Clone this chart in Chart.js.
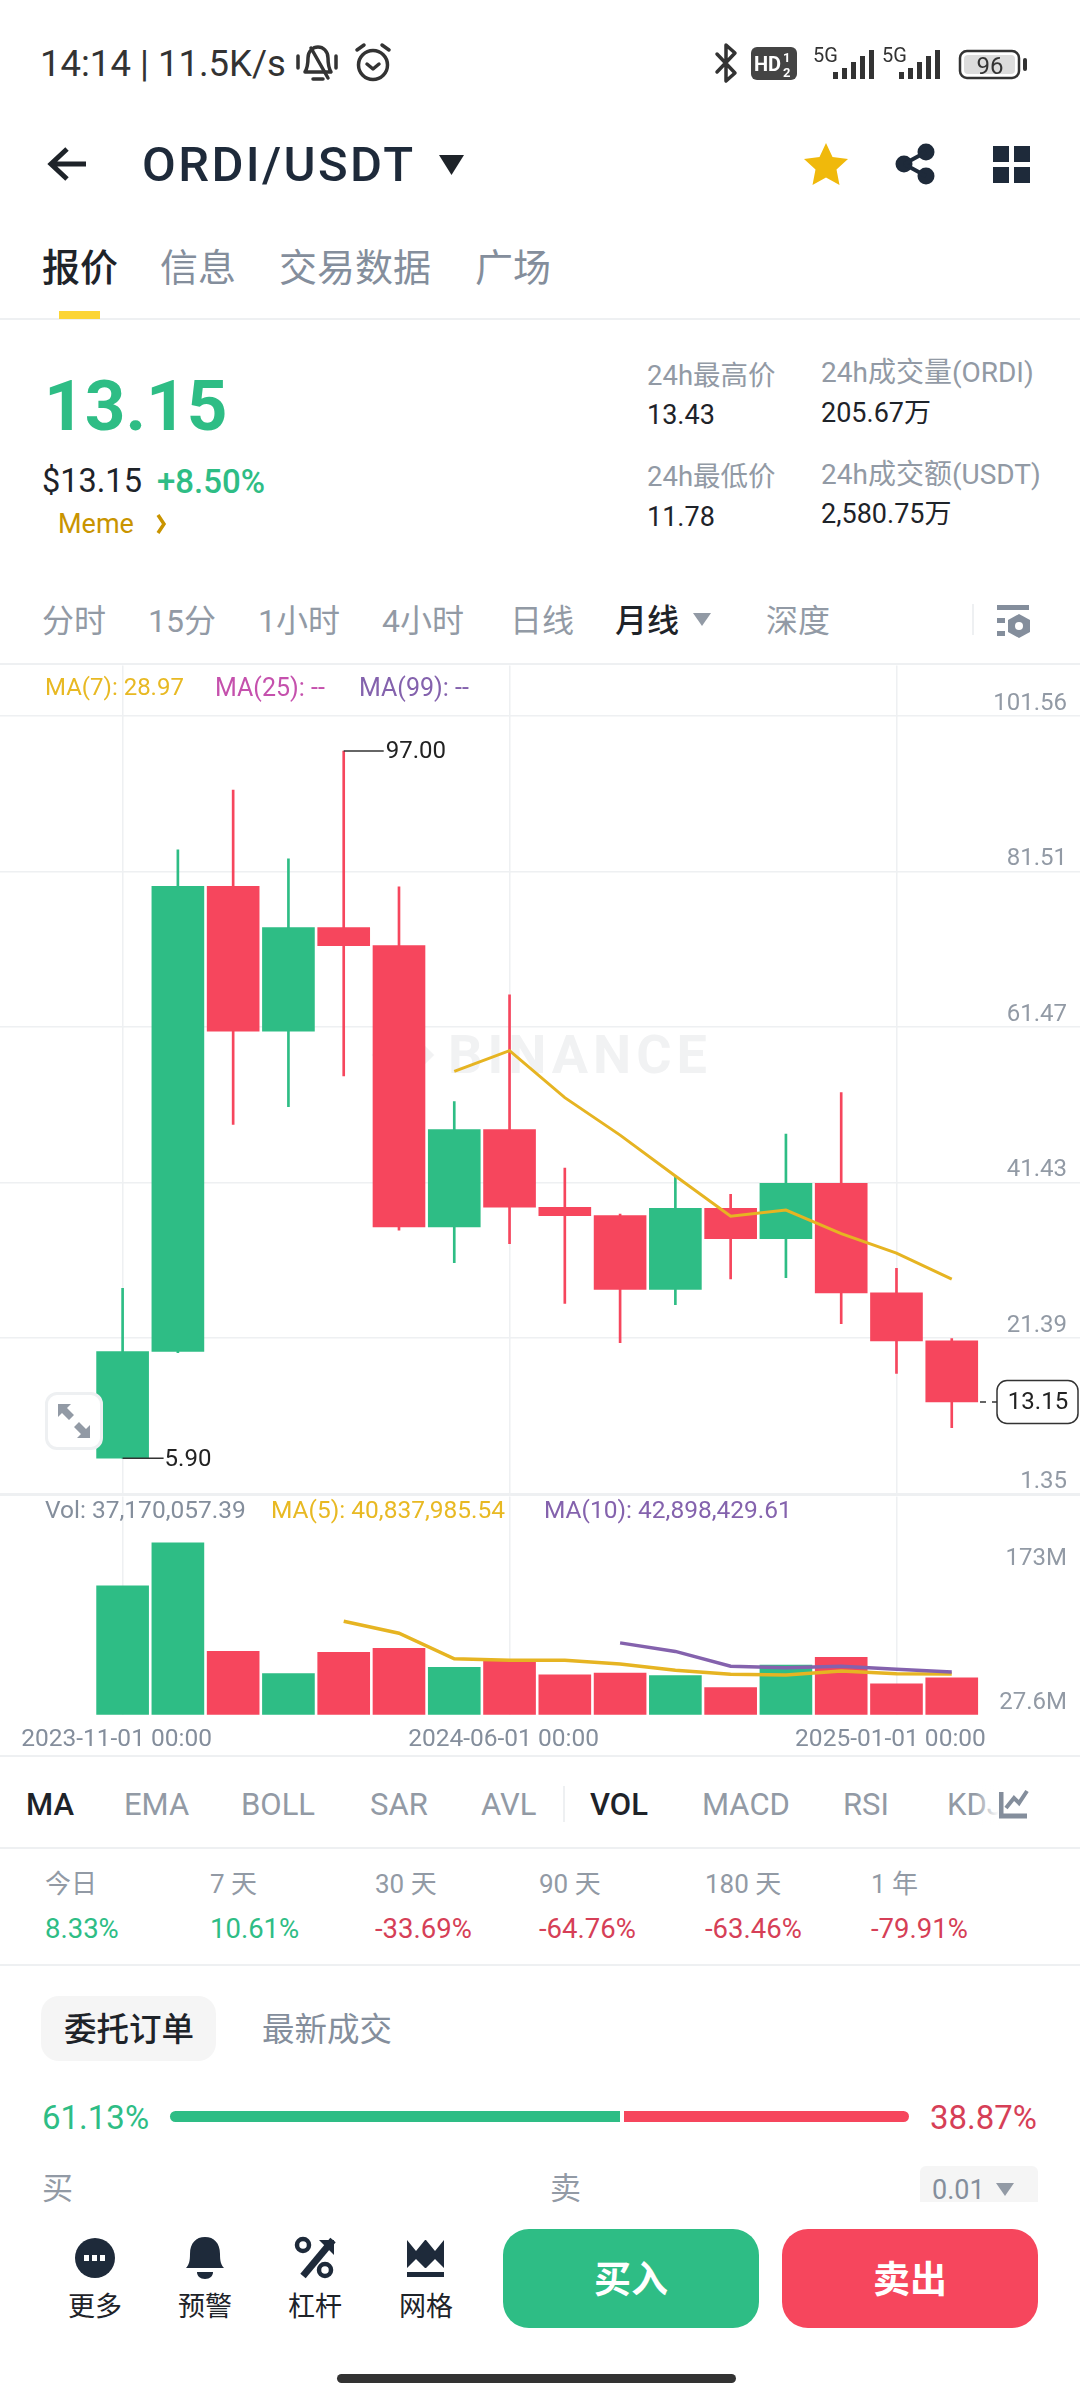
<!DOCTYPE html>
<html lang="zh">
<head>
<meta charset="utf-8">
<title>ORDI/USDT</title>
<script src="https://cdn.jsdelivr.net/npm/chart.js@4"></script>
<style>
  html, body { margin: 0; padding: 0; background: #fff; }
  #page { position: relative; width: 1080px; height: 2400px; overflow: hidden; background: #fff;
          font-family: Roboto, "Noto Sans CJK SC", sans-serif; }
  #page span { position: absolute; white-space: nowrap; line-height: 1; }
  #page canvas { position: absolute; left: 0; z-index: 2; }
  .line { position: absolute; left: 0; width: 1080px; height: 2px; background: #eef0f2; }
  .box { position: absolute; }
  #icons { position: absolute; left: 0; top: 0; z-index: 3; }
</style>
</head>
<body>
<div id="page">
  <canvas id="priceChart" width="1080" height="831" style="top:664px"></canvas>
  <canvas id="volChart" width="1080" height="261" style="top:1495px"></canvas>
  <div class="line" style="top:318px"></div>
  <div class="line" style="top:663px"></div>
  <div class="line" style="top:1494px"></div>
  <div class="line" style="top:1755px"></div>
  <div class="line" style="top:1847px"></div>
  <div class="line" style="top:1964px"></div>
  <div class="box" style="left:59px;top:311px;width:41px;height:8px;background:#fcd535"></div>
  <div class="box" style="left:41px;top:1996px;width:175px;height:65px;background:#f5f5f5;border-radius:18px"></div>
  <div class="box" style="left:170px;top:2111px;width:450px;height:11px;background:#2ebd85;border-radius:6px 0 0 6px"></div>
  <div class="box" style="left:624px;top:2111px;width:285px;height:11px;background:#f6465d;border-radius:0 6px 6px 0"></div>
  <div class="box" style="left:920px;top:2166px;width:118px;height:36px;background:#f5f5f5;border-radius:6px 6px 0 0"></div>
  <div class="box" style="left:503px;top:2229px;width:256px;height:99px;background:#2ebd85;border-radius:26px"></div>
  <div class="box" style="left:782px;top:2229px;width:256px;height:99px;background:#f6465d;border-radius:26px"></div>
  <div class="box" style="left:337px;top:2374px;width:399px;height:9px;background:#333;border-radius:5px"></div>
  <div class="box" style="left:45px;top:1392px;width:58px;height:58px;background:#fff;border:3px solid #eef0f2;border-radius:12px;box-sizing:border-box;z-index:3"></div>
  <div class="box" style="left:972px;top:604px;width:2px;height:31px;background:#eef0f2"></div>
  <div class="box" style="left:563px;top:1786px;width:2px;height:36px;background:#eef0f2"></div>
  <div class="box" style="left:975px;top:1785px;width:24px;height:40px;background:linear-gradient(90deg,rgba(255,255,255,0),#fff);z-index:4"></div>
  <div class="box" style="left:381px;top:1033px;width:44px;height:44px;background:#f1f2f3;transform:rotate(45deg)"></div>

  <svg id="icons" width="1080" height="2400" viewBox="0 0 1080 2400" fill="none">
    <!-- status bar -->
    <g stroke="#333" stroke-width="3.5" stroke-linecap="round" stroke-linejoin="round">
      <path d="M305 72c3-5 3-9 3-14 0-7 5-11 10-11s10 4 10 11c0 5 0 9 3 14z"/>
      <path d="M311 48l17 30M298 56v12M336 56v12M313 79h10"/>
      <circle cx="373" cy="65" r="14.5"/>
      <path d="M357 50l7-5M389 50l-7-5M367 64l6 5 6-5"/>
      <path d="M717 54l18 19-9 8V45l9 8-18 19"/>
    </g>
    <rect x="751" y="47" width="46" height="33" rx="6" fill="#444"/>
    <text x="754" y="71" font-size="20" font-weight="700" fill="#fff" font-family="Roboto">HD</text>
    <text x="783" y="62" font-size="13" font-weight="700" fill="#fff" font-family="Roboto">1</text>
    <text x="783" y="77" font-size="13" font-weight="700" fill="#fff" font-family="Roboto">2</text>
    <text x="813" y="62" font-size="20" fill="#333" font-family="Roboto">5G</text>
    <text x="882" y="62" font-size="20" fill="#333" font-family="Roboto">5G</text>
    <g fill="#333">
      <rect x="833" y="72" width="5" height="7"/><rect x="842" y="68" width="5" height="11"/>
      <rect x="851" y="62" width="5" height="17"/><rect x="860" y="56" width="5" height="23"/><rect x="869" y="50" width="5" height="29"/>
      <rect x="899" y="72" width="5" height="7"/><rect x="908" y="68" width="5" height="11"/>
      <rect x="917" y="62" width="5" height="17"/><rect x="926" y="56" width="5" height="23"/><rect x="935" y="50" width="5" height="29"/>
      <rect x="1023" y="58" width="4" height="13" rx="2"/>
    </g>
    <rect x="960" y="51" width="59" height="27" rx="7" stroke="#333" stroke-width="2.5"/>
    <rect x="964" y="55" width="51" height="19" rx="4" fill="#dcdcdc"/>
    <text x="990" y="74" font-size="24" fill="#333" text-anchor="middle" font-family="Roboto">96</text>
    <!-- header -->
    <path d="M86 164H52M67 149L51 164l16 15" stroke="#1e2329" stroke-width="5"/>
    <path d="M439 155h25l-12.500 20z" fill="#1e2329"/>
    <path d="M826 143l6.500 14 15.500 2-11.500 10.500 3 15.500-13.500-7.500-13.500 7.500 3-15.500L804 159l15.500-2z" fill="#f0b90b"/>
    <g fill="#1e2a3a">
      <circle cx="904" cy="164" r="8.500"/><circle cx="926" cy="152" r="8.500"/><circle cx="926" cy="176" r="8.500"/>
      <rect x="993" y="146" width="16" height="16"/><rect x="1014" y="146" width="16" height="16"/>
      <rect x="993" y="167" width="16" height="16"/><rect x="1014" y="167" width="16" height="16"/>
    </g>
    <path d="M904 164l22-12M904 164l22 12" stroke="#1e2a3a" stroke-width="4"/>
    <path d="M158 515l6 9-6 9" stroke="#c99400" stroke-width="3.500"/>
    <!-- interval row -->
    <path d="M693 613h18l-9 13z" fill="#929aa5"/>
    <g fill="#848e9c">
      <rect x="997" y="605" width="32" height="5"/><rect x="997" y="618" width="8" height="5"/><rect x="997" y="631" width="8" height="5"/>
      <path d="M1019 614l11 6v12l-11 6-11-6v-12z"/>
    </g>
    <circle cx="1019" cy="626" r="4" fill="#fff"/>
    <!-- expand button -->
    <path d="M58 1404h13l-4 4 7 7-5 5-7-7-4 4zM90 1438H77l4-4-7-7 5-5 7 7 4-4z" fill="#929aa5"/>
    <!-- indicator row icon -->
    <path d="M1001 1792v24h26" stroke="#848e9c" stroke-width="5"/>
    <path d="M1006 1808l8-10 5 5 8-12" stroke="#848e9c" stroke-width="4"/>
    <!-- order book dropdown -->
    <path d="M996 2183h18l-9 13z" fill="#929aa5"/>
    <!-- bottom nav -->
    <circle cx="95" cy="2258" r="20" fill="#1e2a3a"/>
    <g fill="#fff"><rect x="84" y="2255" width="5" height="6"/><rect x="92" y="2255" width="5" height="6"/><rect x="100" y="2255" width="5" height="6"/></g>
    <path d="M186 2268c3-3 4-7 4-14 0-11 6-17 15-17s15 6 15 17c0 7 1 11 4 14z" fill="#1e2a3a"/>
    <path d="M197 2272h16c0 4-3 7-8 7s-8-3-8-7z" fill="#1e2a3a"/>
    <path d="M333 2240l-30 36" stroke="#1e2a3a" stroke-width="7"/>
    <path d="M319 2240h15v15z" fill="#1e2a3a"/>
    <circle cx="303" cy="2245" r="6" stroke="#1e2a3a" stroke-width="4.500"/>
    <circle cx="325" cy="2270" r="6" stroke="#1e2a3a" stroke-width="4.500"/>
    <path d="M407 2240h37v28h-37z" fill="#1e2a3a"/>
    <path d="M407 2240l9 11 9-11zM426 2240l9 11 9-11zM407 2268l9-9 9 9zM426 2268l9-9 9 9z" fill="#fff"/>
    <rect x="407" y="2272" width="37" height="5" fill="#1e2a3a"/>
  </svg>
</div>

<script>
const categories = ["2023-11","2023-12","2024-01","2024-02","2024-03","2024-04","2024-05","2024-06","2024-07","2024-08","2024-09","2024-10","2024-11","2024-12","2025-01","2025-02"];
const opens  = [5.90, 19.65, 79.59, 60.93, 74.26, 71.95, 35.71, 48.25, 38.24, 37.16, 27.65, 38.09, 34.20, 41.33, 27.21, 21.02];
const closes = [19.65, 79.59, 60.93, 74.26, 71.95, 35.71, 48.25, 38.24, 37.16, 27.65, 38.09, 34.20, 41.33, 27.21, 21.02, 13.15];
const highs  = [27.79, 84.27, 91.98, 83.12, 97.00, 79.52, 51.85, 65.61, 43.28, 37.37, 42.27, 39.89, 47.67, 53.00, 30.38, 21.31];
const lows   = [5.90, 19.50, 48.90, 51.20, 55.17, 35.28, 31.10, 33.55, 25.85, 20.80, 25.70, 29.01, 29.16, 23.25, 16.84, 9.85];
const ma7 = [null, null, null, null, null, null, 55.74, 58.41, 52.36, 47.53, 42.27, 37.08, 37.87, 34.85, 32.33, 28.97];
const volumes = [129.7, 173, 63.7, 41.3, 62.7, 66.7, 47.7, 54, 40, 42, 39.3, 27.3, 50, 57.7, 31, 37.17];
const volMa5  = [null, null, null, null, 94, 82, 56.3, 54.7, 54.7, 51, 44.7, 40.7, 40, 44, 41.3, 40.84];
const volMa10 = [null, null, null, null, null, null, null, null, null, 72.3, 63.7, 48.7, 47.3, 48.7, 45.7, 42.9];
const priceTicks = [1.35, 21.39, 41.43, 61.47, 81.51, 101.56];
const volTicks = [27.6, 173];
const dateTicks = [0, 7, 14];
const dateLabels = ["2023-11-01 00:00", "2024-06-01 00:00", "2025-01-01 00:00"];

const GREEN = "#2ebd85", RED = "#f6465d", GRID = "#eef0f2", GRAY = "#929aa5", DARK = "#1e2329";
const SELL = "#d63f57", GOLD = "#e8b923", PURPLE = "#8462ad", PINK = "#c551ad";
const FONT = 'Roboto, "Noto Sans CJK SC", sans-serif';

// text around the charts
function put(text, x, y, size, color, extra) {
    const el = document.createElement("span");
    el.textContent = text;
    const o = extra || {};
    const tx = o.align === "right" ? "-100%" : o.align === "center" ? "-50%" : "0";
    el.style.cssText = `left:${x}px;top:${y}px;font-size:${size}px;color:${color};font-weight:${o.weight || 400};letter-spacing:${o.spacing || 0}px;transform:translate(${tx},-50%);z-index:${o.z || 1}`;
    document.getElementById("page").appendChild(el);
}

put("14:14 | 11.5K/s", 40, 64, 36.5, "#333");
put("ORDI/USDT", 142, 164, 49, "#1e2a3a", { weight: 500, spacing: 2.4 });
put("报价", 42, 268, 38, DARK, { weight: 500 });
put("信息", 160, 268, 38, "#848e9c");
put("交易数据", 279, 268, 38, "#848e9c");
put("广场", 475, 268, 38, "#848e9c");
put("13.15", 44, 405, 71, GREEN, { weight: 700 });
put("$13.15", 42, 481, 32.5, DARK);
put("+8.50%", 157, 481, 33, GREEN, { weight: 500 });
put("Meme", 58, 524, 27, "#c99400");
put("24h最高价", 647, 376, 27.5, GRAY);
put("13.43", 647, 415, 27, DARK);
put("24h最低价", 647, 477, 27.5, GRAY);
put("11.78", 647, 517, 27, DARK);
put("24h成交量(ORDI)", 821, 373, 28, GRAY);
put("205.67万", 821, 413, 27, DARK);
put("24h成交额(USDT)", 821, 475, 28, GRAY);
put("2,580.75万", 821, 514, 27, DARK);
put("分时", 42, 621, 32, GRAY);
put("15分", 148, 621, 32, GRAY);
put("1小时", 258, 621, 32, GRAY);
put("4小时", 382, 621, 32, GRAY);
put("日线", 510, 621, 32, GRAY);
put("月线", 615, 621, 32, DARK, { weight: 500 });
put("深度", 766, 621, 32, GRAY);
put("MA(7): 28.97", 45, 687, 24, GOLD, { z: 3 });
put("MA(25): --", 215, 687, 25, PINK, { z: 3 });
put("MA(99): --", 359, 687, 25, PURPLE, { z: 3 });
put("BINANCE", 448, 1055, 54, "#f1f2f3", { weight: 700, spacing: 5 });
put("Vol: 37,170,057.39", 45, 1510, 24.5, "#848e9c", { z: 3 });
put("MA(5): 40,837,985.54", 271, 1510, 24.5, GOLD, { z: 3 });
put("MA(10): 42,898,429.61", 544, 1510, 24.5, PURPLE, { z: 3 });

const indicators = [["MA", 26, DARK], ["EMA", 124, GRAY], ["BOLL", 241, GRAY], ["SAR", 370, GRAY], ["AVL", 481, GRAY],
    ["VOL", 590, DARK], ["MACD", 702, GRAY], ["RSI", 843, GRAY], ["KDJ", 947, GRAY]];
indicators.forEach(([t, x, c]) => put(t, x, 1804, 31, c, { weight: c === DARK ? 500 : 400 }));

const periods = [["今日", "8.33%", 45], ["7 天", "10.61%", 210], ["30 天", "-33.69%", 375], ["90 天", "-64.76%", 539], ["180 天", "-63.46%", 705], ["1 年", "-79.91%", 871]];
periods.forEach(([a, b, x]) => {
    put(a, x, 1884, 26, GRAY);
    put(b, x, 1929, 27.5, b[0] === "-" ? SELL : GREEN);
});

put("委托订单", 64, 2030, 32.5, DARK, { weight: 500 });
put("最新成交", 262, 2030, 32.5, "#848e9c");
put("61.13%", 42, 2117, 33, GREEN);
put("38.87%", 1037, 2117, 33, SELL, { align: "right" });
put("买", 42, 2188, 31, GRAY);
put("卖", 550, 2188, 31, GRAY);
put("0.01", 932, 2190, 27, "#848e9c");
put("更多", 95, 2307, 27, DARK, { align: "center" });
put("预警", 205, 2307, 27, DARK, { align: "center" });
put("杠杆", 315, 2307, 27, DARK, { align: "center" });
put("网格", 426, 2307, 27, DARK, { align: "center" });
put("买入", 631, 2280, 37, "#fff", { align: "center", weight: 700 });
put("卖出", 910, 2280, 37, "#fff", { align: "center", weight: 700 });

Chart.defaults.font.family = FONT;
Chart.defaults.animation = false;
Chart.defaults.devicePixelRatio = 1;
Chart.defaults.responsive = false;

const candleColors = closes.map((c, i) => (c >= opens[i] ? GREEN : RED));
const index = categories.map((_, i) => i);

function xAxis(showLabels) {
    return {
        type: "linear",
        min: -2.218,
        max: 17.32,
        offset: false,
        border: { display: false },
        grid: { color: GRID, lineWidth: 1.5, drawTicks: false, offset: false },
        ticks: {
            display: showLabels,
            autoSkip: false,
            maxRotation: 0,
            padding: 10,
            labelOffset: -6,
            color: "#848e9c",
            font: { size: 24.5 },
            callback: (v) => dateLabels[dateTicks.indexOf(v)],
        },
        afterBuildTicks: (s) => { s.ticks = dateTicks.map((value) => ({ value })); },
        afterFit: (s) => { s.height = showLabels ? 41.3 : 0; },
    };
}

// high, low and last price marks on the price pane
const priceMarks = {
    id: "priceMarks",
    afterDatasetsDraw(chart) {
        const { ctx, scales: { x, y } } = chart;
        ctx.save();
        ctx.font = "24px " + FONT;
        ctx.textBaseline = "middle";
        ctx.strokeStyle = "#333";
        ctx.lineWidth = 1.5;
        ctx.fillStyle = "#222";

        const hi = highs.indexOf(Math.max(...highs));
        const hx = x.getPixelForValue(hi), hy = y.getPixelForValue(highs[hi]);
        ctx.beginPath(); ctx.moveTo(hx, hy); ctx.lineTo(hx + 40, hy); ctx.stroke();
        ctx.fillText(highs[hi].toFixed(2), hx + 42, hy + 1);

        const lo = lows.indexOf(Math.min(...lows));
        const lx = x.getPixelForValue(lo), ly = y.getPixelForValue(lows[lo]);
        ctx.beginPath(); ctx.moveTo(lx, ly); ctx.lineTo(lx + 41, ly); ctx.stroke();
        ctx.fillText(lows[lo].toFixed(2), lx + 42, ly + 2);

        const last = closes[closes.length - 1];
        const ty = y.getPixelForValue(last);
        ctx.setLineDash([6, 6]);
        ctx.beginPath(); ctx.moveTo(980, ty); ctx.lineTo(997, ty); ctx.stroke();
        ctx.setLineDash([]);
        ctx.fillStyle = "#fff";
        ctx.beginPath(); ctx.roundRect(997, ty - 21.5, 81, 43, 10); ctx.fill(); ctx.stroke();
        ctx.fillStyle = "#222";
        ctx.textAlign = "center";
        ctx.fillText(last.toFixed(2), 1038, ty + 1);
        ctx.restore();
    },
};

new Chart(document.getElementById("priceChart"), {
    type: "bar",
    data: {
        labels: index,
        datasets: [
            {
                type: "line",
                label: "MA(7)",
                data: ma7,
                borderColor: "#e6b422",
                borderWidth: 3,
                pointRadius: 0,
                order: 1,
            },
            {
                label: "body",
                data: opens.map((o, i) => [o, closes[i]]),
                backgroundColor: candleColors,
                barThickness: 52,
                grouped: false,
                order: 2,
            },
            {
                label: "wick",
                data: lows.map((l, i) => [l, highs[i]]),
                backgroundColor: candleColors,
                barThickness: 2,
                grouped: false,
                order: 3,
            },
        ],
    },
    options: {
        layout: { padding: 0 },
        plugins: { legend: { display: false }, tooltip: { enabled: false } },
        scales: {
            x: xAxis(false),
            y: {
                position: "right",
                min: 1.35,
                max: 108.04,
                border: { display: false },
                grid: { color: GRID, lineWidth: 1.5, drawTicks: false },
                ticks: {
                    mirror: true,
                    padding: -13,
                    labelOffset: -12,
                    color: GRAY,
                    font: { size: 24 },
                    callback: (v) => v.toFixed(2),
                },
                afterBuildTicks: (s) => { s.ticks = priceTicks.map((value) => ({ value })); },
            },
        },
    },
    plugins: [priceMarks],
});

new Chart(document.getElementById("volChart"), {
    type: "bar",
    data: {
        labels: index,
        datasets: [
            { type: "line", label: "MA(10)", data: volMa10, borderColor: PURPLE, borderWidth: 3.5, pointRadius: 0, order: 1 },
            { type: "line", label: "MA(5)", data: volMa5, borderColor: "#e6b422", borderWidth: 3.5, pointRadius: 0, order: 2 },
            { label: "Vol", data: volumes, backgroundColor: candleColors, barThickness: 52, order: 3 },
        ],
    },
    options: {
        layout: { padding: 0 },
        plugins: { legend: { display: false }, tooltip: { enabled: false } },
        scales: {
            x: xAxis(true),
            y: {
                position: "right",
                min: 0,
                max: 219.7,
                border: { display: false },
                grid: { drawOnChartArea: false, drawTicks: false },
                ticks: {
                    mirror: true,
                    padding: -13,
                    labelOffset: 16,
                    color: GRAY,
                    font: { size: 24 },
                    callback: (v) => v + "M",
                },
                afterBuildTicks: (s) => { s.ticks = volTicks.map((value) => ({ value })); },
            },
        },
    },
});
</script>
</body>
</html>
